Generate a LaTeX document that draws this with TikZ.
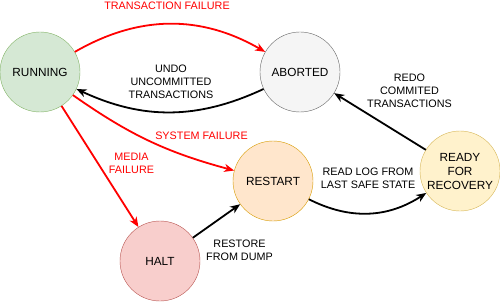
\documentclass[tikz,border=0pt]{standalone}
\usepackage{fontspec}
\setmainfont{Liberation Sans}
\usetikzlibrary{positioning,arrows.meta,calc}

\definecolor{runfill}{HTML}{D5E8D4}\definecolor{rundraw}{HTML}{82B366}
\definecolor{abofill}{HTML}{F5F5F5}\definecolor{abodraw}{HTML}{666666}
\definecolor{resfill}{HTML}{FFE6CC}\definecolor{resdraw}{HTML}{D79B00}
\definecolor{rdyfill}{HTML}{FFF2CC}\definecolor{rdydraw}{HTML}{D6B656}
\definecolor{hltfill}{HTML}{F8CECC}\definecolor{hltdraw}{HTML}{B85450}
\definecolor{failred}{HTML}{FF0000}

\begin{document}
\begin{tikzpicture}[
  x=1pt, y=-1pt,
  >={Stealth[length=10pt,width=8pt,inset=3pt]},
  state/.style={circle, draw, minimum size=80pt, inner sep=0pt, align=center, font=\fontsize{11.8}{14}\selectfont},
  lbl/.style={align=center, font=\fontsize{10.8}{13}\selectfont},
  fail/.style={->, draw=failred, line width=1.8pt},
  recov/.style={->, black, line width=1.8pt}
]
\useasboundingbox (0,0) rectangle (500,302);

% states
\node[state, fill=runfill, draw=rundraw] (run) at (40,72) {RUNNING};
\node[state, fill=abofill, draw=abodraw] (abort) at (300,72) {ABORTED};
\node[state, fill=resfill, draw=resdraw] (restart) at (273,181) {RESTART};
\node[state, fill=rdyfill, draw=rdydraw] (ready) at (460,171) {READY\\FOR\\RECOVERY};
\node[state, fill=hltfill, draw=hltdraw] (halt) at (160,261) {HALT};

% transitions
\draw[fail] (run) to[bend left=30] (abort);
\draw[recov] (abort) to[bend left=25] (run);
\draw[fail] (run) to[bend right=10] (restart);
\draw[fail] (run) -- (halt);
\draw[recov] (halt) -- (restart);
\draw[recov] (restart) to[bend right=30] (ready);
\draw[recov] (ready) -- (abort);

% labels
\node[lbl, text=failred] (lfailtx) at (167,5.5) {TRANSACTION FAILURE};
\node[lbl] (lundo) at (171,81.5) {UNDO\\UNCOMMITTED\\TRANSACTIONS};
\node[lbl, text=failred] (lfailsys) at (201.5,136) {SYSTEM FAILURE};
\node[lbl, text=failred] (lfailmed) at (131.5,163.5) {MEDIA\\FAILURE};
\node[lbl] (lrestore) at (239.5,250.5) {RESTORE\\FROM DUMP};
\node[lbl] (lreadlog) at (368,178.5) {READ LOG FROM\\LAST SAFE STATE};
\node[lbl] (lredo) at (409.5,91) {REDO\\COMMITED\\TRANSACTIONS};

\end{tikzpicture}
\end{document}
